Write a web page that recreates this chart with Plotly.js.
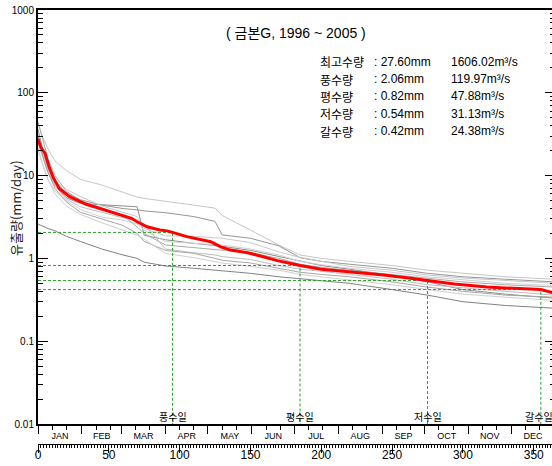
<!DOCTYPE html>
<html>
<head>
<meta charset="utf-8">
<script src="https://cdn.plot.ly/plotly-3.0.1.min.js"></script>
<style>
html,body{margin:0;padding:0;overflow:hidden;background:#fff;}
#chart{width:555px;height:466px;}
</style>
</head>
<body>
<div id="chart"></div>
<script>
// ---- data ----
const years = ['1996','1997','1998','1999','2000','2001','2002','2003','2004','2005'];
const days = [0,3,7,12,20,30,45,60,70,75,90,110,125,130,150,170,185,200,220,250,275,300,330,365];
const y1996 = [42,30,21,15,11.5,9,7.7,6.3,5.5,5.3,4.85,4.4,4.05,3.3,2.2,1.45,1.1,1.0,0.92,0.82,0.72,0.66,0.6,0.56];
const y1997 = [30,18,11,7.5,5.4,4.6,4.45,4.3,4.2,1.9,1.68,1.52,1.45,1.4,1.25,1.05,0.92,0.82,0.74,0.62,0.52,0.42,0.37,0.33];
const y1998 = [36,22,13,8.5,6.2,5.1,4.4,4.0,3.85,3.75,3.56,3.2,2.8,1.92,1.75,1.42,1.02,0.92,0.85,0.76,0.66,0.6,0.56,0.52];
const y1999 = [25,17,11,8.5,6.8,5.6,4.3,3.6,3.2,2.3,1.87,1.85,1.8,1.75,1.55,1.2,1.03,0.92,0.8,0.72,0.63,0.58,0.54,0.5];
const y2000 = [20,14,9,6.5,5.0,3.9,3.15,2.9,2.6,2.2,1.6,1.52,1.48,1.45,1.3,1.1,0.92,0.84,0.76,0.68,0.6,0.55,0.5,0.47];
const y2001 = [45,28,16,10,6.5,5.0,4.1,3.3,2.4,2.0,1.45,1.35,1.3,1.28,1.17,1.0,0.85,0.78,0.72,0.64,0.57,0.52,0.48,0.45];
const y2002 = [32,20,12,7.5,5.2,4.2,3.6,3.1,2.8,2.6,1.3,1.17,1.1,1.05,0.97,0.82,0.74,0.7,0.64,0.56,0.48,0.44,0.4,0.36];
const y2003 = [28,18,11,7,4.8,3.6,3.0,2.5,2.0,1.6,1.25,1.15,1.0,0.95,0.88,0.76,0.68,0.64,0.6,0.52,0.45,0.4,0.36,0.34];
const y2004 = [22,14,9,6,4.3,3.4,2.7,2.2,1.9,1.7,1.15,1.02,0.92,0.88,0.8,0.72,0.64,0.6,0.55,0.48,0.42,0.37,0.34,0.31];
const y2005 = [2.6,2.45,2.3,2.15,1.85,1.6,1.3,1.1,1.0,0.9,0.81,0.76,0.72,0.7,0.66,0.6,0.57,0.54,0.5,0.42,0.36,0.3,0.27,0.25];
const yearValues = [y1996,y1997,y1998,y1999,y2000,y2001,y2002,y2003,y2004,y2005];

const meanDays = [0,2,5,8,11,15,22,34,46,58,66,70,77,86,91,95,105,122,129,136,148,157,169,181,185,200,221,244,263,275,294,317,341,355,365];
const meanValues = [27.6,22,18.5,12.5,9.3,7.0,5.6,4.5,3.9,3.4,3.05,2.77,2.41,2.2,2.15,2.06,1.83,1.59,1.38,1.26,1.17,1.07,0.94,0.85,0.82,0.74,0.69,0.63,0.575,0.54,0.49,0.45,0.43,0.42,0.38];

const flowLabels = ['풍수일','평수일','저수일','갈수일'];
const flowDays = [95,185,275,355];
const flowValues = [2.06,0.82,0.54,0.42];

const statNames = ['최고수량','풍수량','평수량','저수량','갈수량'];
const statMm = [27.60,2.06,0.82,0.54,0.42];
const statCms = [1606.02,119.97,47.88,31.13,24.38];

const monthNames = ['JAN','FEB','MAR','APR','MAY','JUN','JUL','AUG','SEP','OCT','NOV','DEC'];
const monthStarts = [0,31,59,90,120,151,181,212,243,273,304,334,365];
const yTickVals = [0.01,0.1,1,10,100,1000];
const yTickText = ['0.01','0.1','1','10','100','1000'];

// ---- styles ----
const greyColors = ['#c6c6c6','#8e8e8e','#969696','#c8c8c8','#d0d0d0','#ababab','#bebebe','#a6a6a6','#cfcfcf','#828282'];
const FONT = 'Arial, "Liberation Sans", "Noto Sans CJK KR", sans-serif';
const KFONT = '"Noto Sans CJK KR", Arial, sans-serif';

// derived tick positions
const monthMid = monthNames.map((m,i)=>(monthStarts[i]+monthStarts[i+1])/2);
const monthMinor = [];
monthNames.forEach((m,i)=>{ monthMinor.push(monthStarts[i]+10, monthStarts[i]+20); });
const yMinor = [];
for (let e=-2;e<3;e++){ for(let k=2;k<10;k++){ yMinor.push(k*Math.pow(10,e)); } }

// paper-coordinate helpers (plot area: x 38..555, y 10..444)
const W = 517, H = 434;
const px = x => (x-38)/W;
const py = y => (444-y)/H;

const traces = [];
years.forEach((yr,i)=>{
  traces.push({x:days, y:yearValues[i], type:'scatter', mode:'lines', name:yr,
    line:{color:greyColors[i], width:1}, showlegend:false, hoverinfo:'skip'});
});
flowDays.forEach((d,i)=>{
  traces.push({x:[0,d,d], y:[flowValues[i],flowValues[i],yTickVals[0]], type:'scatter', mode:'lines',
    line:{color:'#2ca02c', width:1, dash:'3px,2px'}, showlegend:false, hoverinfo:'skip'});
});
traces.push({x:meanDays, y:meanValues, type:'scatter', mode:'lines', name:'mean',
  line:{color:'#ff0000', width:3}, showlegend:false});
traces.push({x:[], y:[], xaxis:'x2', yaxis:'y', type:'scatter', showlegend:false});
traces.push({x:[], y:[], xaxis:'x3', yaxis:'y', type:'scatter', showlegend:false});

const annotations = [];
annotations.push({text:'( 금본G, 1996 ~ 2005 )', xref:'paper', yref:'paper', x:px(296), y:py(33),
  xanchor:'center', yanchor:'middle', showarrow:false, font:{family:FONT, size:14, color:'#000'}});
statNames.forEach((n,i)=>{
  const yy = py(61.7 + 17.35*i);
  annotations.push({text:n, xref:'paper', yref:'paper', x:px(318), y:yy, xanchor:'left', yanchor:'middle',
    showarrow:false, font:{family:KFONT, size:12, color:'#000'}});
  annotations.push({text:': '+statMm[i].toFixed(2)+'mm', xref:'paper', yref:'paper', x:px(372), y:yy, xanchor:'left', yanchor:'middle',
    showarrow:false, font:{family:FONT, size:12, color:'#000'}});
  annotations.push({text:statCms[i].toFixed(2)+'m³/s', xref:'paper', yref:'paper', x:px(449), y:yy, xanchor:'left', yanchor:'middle',
    showarrow:false, font:{family:FONT, size:12, color:'#000'}});
});
flowLabels.forEach((l,i)=>{
  annotations.push({text:l, xref:'x', yref:'paper', x:flowDays[i], y:py(416), xanchor:'center', yanchor:'middle',
    xshift:(i===flowLabels.length-1)?-2:0,
    showarrow:false, font:{family:KFONT, size:10, color:'#000'}});
});
annotations.push({text:'유출량(mm/day)', xref:'paper', yref:'paper', x:px(15), y:py(208), textangle:-90,
  xanchor:'center', yanchor:'middle', showarrow:false, font:{family:KFONT, size:13, color:'#222'}});

const layout = {
  width:555, height:466,
  margin:{l:38, r:0, t:10, b:22, pad:0},
  paper_bgcolor:'#fff', plot_bgcolor:'#fff',
  showlegend:false,
  xaxis:{range:[0,365], anchor:'y', showline:true, linewidth:2, linecolor:'#000', mirror:true,
    ticks:'outside', tickmode:'array', tickvals:monthStarts, ticklen:8, tickwidth:1, tickcolor:'#000',
    showticklabels:false, showgrid:false, zeroline:false,
    minor:{tickmode:'array', tickvals:monthMinor, ticks:'outside', ticklen:4, tickwidth:1, tickcolor:'#000', showgrid:false}},
  xaxis2:{range:[0,365], overlaying:'x', anchor:'y', side:'bottom', showline:false, showgrid:false, zeroline:false,
    ticks:'', tickmode:'array', tickvals:monthMid, ticktext:monthNames, ticklabelstandoff:5,
    tickfont:{family:FONT, size:9, color:'#000'}},
  xaxis3:{range:[0,365], overlaying:'x', anchor:'free', position:0, side:'bottom', showline:true, linewidth:1, linecolor:'#000',
    showgrid:false, zeroline:false, ticks:'outside', tick0:0, dtick:50, ticklen:8, tickwidth:1, tickcolor:'#000',
    ticklabelstandoff:-8,
    tickfont:{family:FONT, size:12, color:'#000'},
    minor:{tick0:0, dtick:2, ticks:'outside', ticklen:3, tickwidth:1, tickcolor:'#000', showgrid:false}},
  yaxis:{type:'log', range:[-2,3], domain:[py(424),1], anchor:'x', showline:true, linewidth:2, linecolor:'#000', mirror:'ticks',
    ticks:'inside', tickmode:'array', tickvals:yTickVals, ticktext:yTickText, ticklen:10, tickwidth:1, tickcolor:'#000',
    tickfont:{family:FONT, size:10, color:'#000'}, showgrid:false, zeroline:false,
    minor:{tickmode:'array', tickvals:yMinor, ticks:'inside', ticklen:5, tickwidth:1, tickcolor:'#000', showgrid:false}},
  annotations:annotations
};

Plotly.newPlot('chart', traces, layout, {staticPlot:true, displayModeBar:false});
</script>
</body>
</html>
